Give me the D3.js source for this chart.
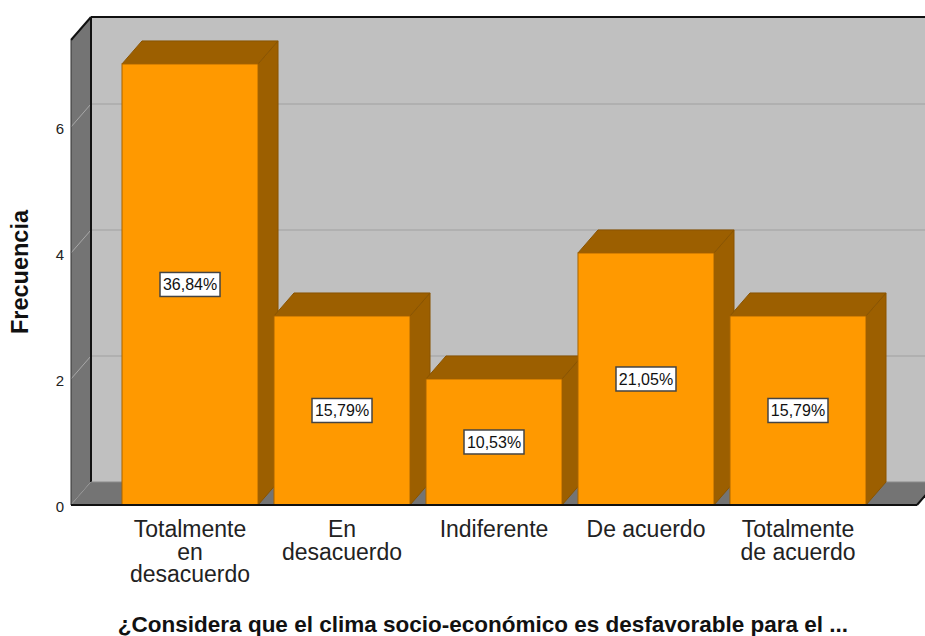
<!DOCTYPE html>
<html>
<head>
<meta charset="utf-8">
<script src="https://cdn.jsdelivr.net/npm/d3@7/dist/d3.min.js"></script>
<style>
  html, body { margin: 0; padding: 0; background: #ffffff; }
  svg { display: block; }
  text { font-family: "Liberation Sans", Arial, sans-serif; }
</style>
</head>
<body>
<svg id="chart" width="925" height="636"></svg>
<script>
// ---- data ----
const categories = ["Totalmente en desacuerdo", "En desacuerdo", "Indiferente", "De acuerdo", "Totalmente de acuerdo"];
const categoryLines = [["Totalmente", "en", "desacuerdo"], ["En", "desacuerdo"], ["Indiferente"], ["De acuerdo"], ["Totalmente", "de acuerdo"]];
const counts = [7, 3, 2, 4, 3];
const percentLabels = ["36,84%", "15,79%", "10,53%", "21,05%", "15,79%"];
const yTicks = [0, 2, 4, 6];
const yTitle = "Frecuencia";
const xTitle = "¿Considera que el clima socio-económico es desfavorable para el ...";

// ---- layout ----
const W = 925, H = 636;
const x0 = 71, x1 = 917, yBase = 505, yTop = 40;
const dx = 20, dy = -23;

const svg = d3.select("#chart");

const x = d3.scaleBand().domain(categories).range([x0, x1]).paddingInner(0.105).paddingOuter(0.3355);
const y = d3.scaleLinear().domain([0, 7.38]).range([yBase, yTop]);

const line = d3.line();

// back wall
svg.append("path")
  .attr("d", line([[x0 + dx, yTop + dy], [W + 40, yTop + dy], [W + 40, yBase + dy], [x0 + dx, yBase + dy]]) + "Z")
  .attr("fill", "#c0c0c0");

// back wall grid lines
svg.append("g").selectAll("line").data(yTicks.filter(d => d > 0)).join("line")
  .attr("x1", x0 + dx).attr("x2", W + 40)
  .attr("y1", d => y(d) + dy).attr("y2", d => y(d) + dy)
  .attr("stroke", "#b0b0b0").attr("stroke-width", 2);

// left wall
svg.append("path")
  .attr("d", line([[x0, yTop], [x0 + dx, yTop + dy], [x0 + dx, yBase + dy], [x0, yBase]]) + "Z")
  .attr("fill", "#747474");

// left wall grid lines (tick lines)
svg.append("g").selectAll("line").data(yTicks).join("line")
  .attr("x1", x0).attr("x2", x0 + dx)
  .attr("y1", d => y(d)).attr("y2", d => y(d) + dy)
  .attr("stroke", "#a8a8a8").attr("stroke-width", 1);

// floor
svg.append("path")
  .attr("d", line([[x0, yBase], [x0 + dx, yBase + dy], [x1 + dx, yBase + dy], [x1, yBase]]) + "Z")
  .attr("fill", "#747474");

// frame lines
svg.append("line").attr("x1", x0 + dx).attr("x2", W + 40).attr("y1", yTop + dy).attr("y2", yTop + dy)
  .attr("stroke", "#111").attr("stroke-width", 2);
svg.append("line").attr("x1", x0).attr("x2", x0 + dx).attr("y1", yTop).attr("y2", yTop + dy)
  .attr("stroke", "#111").attr("stroke-width", 2);
svg.append("line").attr("x1", x0 + dx).attr("x2", x0 + dx).attr("y1", yTop + dy).attr("y2", yBase + dy)
  .attr("stroke", "#111").attr("stroke-width", 2);
svg.append("line").attr("x1", x0).attr("x2", x0).attr("y1", yTop).attr("y2", yBase)
  .attr("stroke", "#333").attr("stroke-width", 1);
svg.append("line").attr("x1", x0 + dx).attr("x2", x1 + dx).attr("y1", yBase + dy).attr("y2", yBase + dy)
  .attr("stroke", "#8a8a8a").attr("stroke-width", 1);
svg.append("line").attr("x1", x1).attr("x2", x1 + dx).attr("y1", yBase).attr("y2", yBase + dy)
  .attr("stroke", "#111").attr("stroke-width", 2);

// bars
const bw = x.bandwidth();
const bars = svg.append("g").selectAll("g").data(categories).join("g");
bars.append("path") // side
  .attr("d", (c, i) => {
    const xl = x(c), yv = y(counts[i]);
    return line([[xl + bw, yv], [xl + bw + dx, yv + dy], [xl + bw + dx, yBase + dy], [xl + bw, yBase]]) + "Z";
  })
  .attr("fill", "#9c5f00").attr("stroke", "#8a5400").attr("stroke-width", 1).attr("stroke-linejoin", "round");
bars.append("path") // top
  .attr("d", (c, i) => {
    const xl = x(c), yv = y(counts[i]);
    return line([[xl, yv], [xl + dx, yv + dy], [xl + bw + dx, yv + dy], [xl + bw, yv]]) + "Z";
  })
  .attr("fill", "#9c5f00").attr("stroke", "#8a5400").attr("stroke-width", 1).attr("stroke-linejoin", "round");
bars.append("rect") // front
  .attr("x", c => x(c)).attr("width", bw)
  .attr("y", (c, i) => y(counts[i])).attr("height", (c, i) => yBase - y(counts[i]))
  .attr("fill", "#ff9900").attr("stroke", "#a86400").attr("stroke-width", 1);

// bottom axis line (front)
svg.append("line").attr("x1", x0).attr("x2", x1).attr("y1", yBase).attr("y2", yBase)
  .attr("stroke", "#111").attr("stroke-width", 2);

// percent labels
const lab = svg.append("g").selectAll("g").data(categories).join("g")
  .attr("transform", (c, i) => `translate(${x(c) + bw / 2},${(y(counts[i]) + yBase) / 2})`);
lab.append("rect").attr("x", -30).attr("y", -12).attr("width", 60).attr("height", 24)
  .attr("fill", "#ffffff").attr("stroke", "#444").attr("stroke-width", 1.5);
lab.append("text").attr("text-anchor", "middle").attr("dy", "0.36em")
  .attr("font-size", 16).attr("fill", "#111")
  .text((c, i) => percentLabels[i]);

// y tick labels
svg.append("g").selectAll("text").data(yTicks).join("text")
  .attr("x", 64).attr("y", d => y(d) + 2).attr("dy", "0.36em")
  .attr("text-anchor", "end").attr("font-size", 15).attr("fill", "#222")
  .text(d => d);

// category labels
const cl = svg.append("g").selectAll("text").data(categories).join("text")
  .attr("x", c => x(c) + bw / 2).attr("y", 537)
  .attr("text-anchor", "middle").attr("font-size", 23).attr("fill", "#222");
cl.selectAll("tspan").data((c, i) => categoryLines[i]).join("tspan")
  .attr("x", function () { return this.parentNode.getAttribute("x"); })
  .attr("dy", (d, j) => j === 0 ? 0 : 22.5)
  .text(d => d);

// axis titles
svg.append("text")
  .attr("transform", `translate(28,272) rotate(-90)`)
  .attr("text-anchor", "middle").attr("font-size", 23.5).attr("font-weight", "bold").attr("fill", "#111")
  .text(yTitle);
svg.append("text")
  .attr("x", 483).attr("y", 632)
  .attr("text-anchor", "middle").attr("font-size", 22.5).attr("font-weight", "bold").attr("fill", "#111")
  .text(xTitle);
</script>
</body>
</html>
